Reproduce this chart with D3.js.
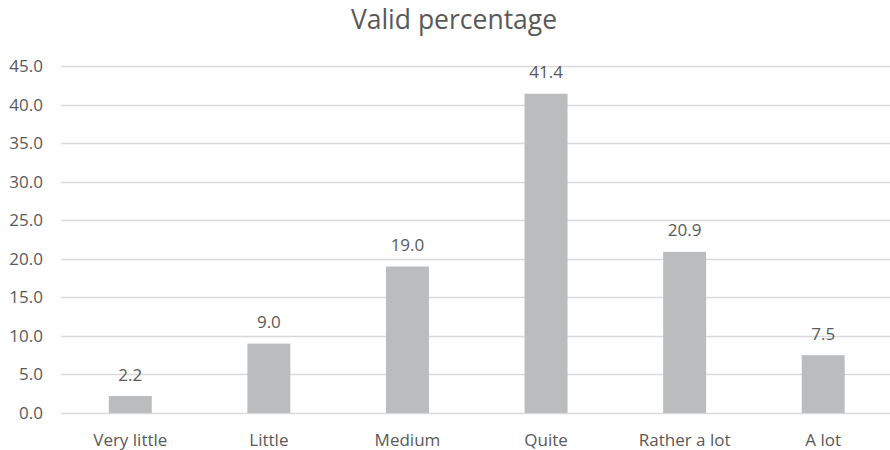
<!DOCTYPE html>
<html>
<head>
<meta charset="utf-8">
<script src="https://cdn.jsdelivr.net/npm/d3@7"></script>
<style>
  html, body { margin: 0; padding: 0; background: #fff; }
  svg text { font-family: "Open Sans", "Noto Sans", sans-serif; fill: #595959; }
</style>
</head>
<body>
<svg id="chart" width="890" height="450"></svg>
<script>
const categories = ["Very little", "Little", "Medium", "Quite", "Rather a lot", "A lot"];
const values = [2.2, 9.0, 19.0, 41.4, 20.9, 7.5];
const yTicks = [0, 5, 10, 15, 20, 25, 30, 35, 40, 45];

const svg = d3.select("#chart");
const W = 890, H = 450;
const plotLeft = 61, plotTop = 66, plotBottom = 413;

const x = d3.scaleBand()
  .domain(categories)
  .range([plotLeft, 892.5])
  .paddingInner(0.69)
  .paddingOuter(0.345);

const y = d3.scaleLinear()
  .domain([0, 45])
  .range([plotBottom, plotTop]);

const fmt = d3.format(".1f");
const fontSize = 17;

// horizontal gridlines
svg.append("g")
  .selectAll("line")
  .data(yTicks)
  .join("line")
  .attr("x1", plotLeft)
  .attr("x2", W)
  .attr("y1", d => Math.round(y(d)) + 0.5)
  .attr("y2", d => Math.round(y(d)) + 0.5)
  .attr("stroke", "#d9d9d9")
  .attr("stroke-width", 1.3);

// y axis labels
const yAxis = d3.axisLeft(y).tickValues(yTicks).tickFormat(fmt).tickSize(0).tickPadding(0);
const yg = svg.append("g").attr("transform", "translate(43,0)").call(yAxis);
yg.select(".domain").remove();
yg.selectAll("text")
  .attr("font-size", fontSize)
  .attr("fill", "#595959")
  .attr("font-family", "'Open Sans', sans-serif");

// bars
svg.append("g")
  .selectAll("rect")
  .data(values)
  .join("rect")
  .attr("x", (d, i) => x(categories[i]))
  .attr("width", x.bandwidth())
  .attr("y", d => y(d))
  .attr("height", d => y(0) - y(d))
  .attr("fill", "#bbbcbe");

// value labels above bars
svg.append("g")
  .selectAll("text")
  .data(values)
  .join("text")
  .attr("x", (d, i) => x(categories[i]) + x.bandwidth() / 2)
  .attr("y", d => y(d) - 15.5)
  .attr("text-anchor", "middle")
  .attr("font-size", fontSize)
  .text(d => fmt(d));

// category labels
const xAxis = d3.axisBottom(x).tickSize(0).tickPadding(0);
const xg = svg.append("g").attr("transform", "translate(0,0)").call(xAxis);
xg.select(".domain").remove();
xg.selectAll("text")
  .attr("y", 446)
  .attr("dy", null)
  .attr("font-size", fontSize)
  .attr("fill", "#595959")
  .attr("font-family", "'Open Sans', sans-serif");

// title
svg.append("text")
  .attr("x", 454)
  .attr("y", 29)
  .attr("text-anchor", "middle")
  .attr("font-size", 26.5)
  .text("Valid percentage");
</script>
</body>
</html>
